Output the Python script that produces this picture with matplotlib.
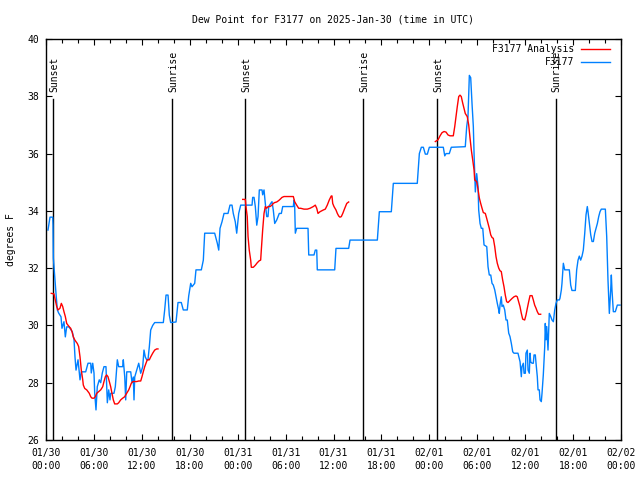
import numpy as np
import matplotlib
matplotlib.use("Agg")
import matplotlib.pyplot as plt

plt.rcParams['font.family'] = 'DejaVu Sans Mono'
plt.rcParams['font.size'] = 7

# hours since 01/30 00:00 UTC
blue_h = [0.25, 0.50, 0.84, 0.88, 0.92, 1.09, 1.25, 1.42, 1.59, 1.88, 2.0, 2.25, 2.42, 2.59, 2.88,
          3.29, 3.51, 3.63, 3.76, 4.01, 4.26, 4.42, 4.97, 5.26, 5.6, 5.67, 5.85, 6.01, 6.1, 6.26,
          6.42, 6.67, 6.85, 7.05, 7.26, 7.51, 7.68, 7.85, 8.01, 8.1, 8.51, 8.68, 8.93, 9.1, 9.6,
          9.68, 9.86, 9.98, 10.11, 10.61, 10.77, 10.93, 11.02, 11.11, 11.36, 11.61, 11.86, 12.11,
          12.27, 12.43, 12.61, 12.77, 12.94, 13.11, 13.36, 13.61, 14.69, 14.86, 15.03, 15.28,
          15.44, 15.61, 16.28, 16.53, 16.94, 17.19, 17.69, 17.87, 18.12, 18.28, 18.62, 18.78,
          19.45, 19.7, 19.87, 21.12, 21.45, 21.63, 21.79, 22.04, 22.29, 22.79, 23.04, 23.29,
          23.45, 23.7, 23.88, 24.13, 24.38, 25.8, 25.88, 26.05, 26.21, 26.39, 26.55, 26.71,
          27.05, 27.13, 27.3, 27.46, 27.64, 27.8, 27.89, 28.14, 28.3, 28.46, 28.64, 28.89, 29.21,
          29.47, 29.64, 30.97, 31.05, 31.14, 31.22, 31.39, 32.81, 32.9, 33.56, 33.72, 33.9, 33.97,
          36.15, 36.31, 37.9, 38.07, 41.49, 41.74, 43.24, 43.49, 46.49, 46.75, 47.0, 47.25, 47.5,
          47.75, 48.0, 49.75, 49.93, 50.09, 50.5, 50.75, 52.5, 52.68, 52.84, 53.01, 53.18, 53.35,
          53.51, 53.6, 53.76, 53.93, 54.1, 54.18, 54.35, 54.51, 54.69, 54.85, 55.19, 55.35, 55.51,
          55.69, 55.85, 56.01, 56.19, 56.35, 56.51, 56.69, 56.76, 56.85, 57.01, 57.1, 57.26, 57.44,
          57.6, 57.76, 57.94, 58.1, 58.27, 58.44, 58.6, 59.1, 59.36, 59.45, 59.52, 59.6, 59.77,
          59.86, 60.02, 60.1, 60.27, 60.36, 60.52, 60.61, 60.69, 60.86, 61.02, 61.11, 61.27, 61.36,
          61.52, 61.61, 61.77, 61.86, 62.02, 62.11, 62.27, 62.45, 62.52, 62.61, 62.7, 62.86, 63.02,
          63.2, 63.36, 63.53, 63.7, 63.86, 64.03, 64.28, 64.36, 64.53, 64.61, 64.78, 64.95, 65.53,
          65.7, 65.86, 66.28, 66.45, 66.62, 66.78, 66.95, 67.12, 67.28, 67.46, 67.62, 67.78, 67.87,
          68.04, 68.21, 68.37, 68.54, 68.71, 68.87, 69.04, 69.21, 69.37, 69.53, 70.04, 70.21, 70.37,
          70.45, 70.54, 70.71, 70.79, 70.87, 71.04, 71.29, 71.54, 71.88]
blue_v = [33.33, 33.78, 33.78, 33.5, 32.35, 31.7, 31.12, 30.54, 30.43, 30.3, 29.9, 30.13, 29.6, 29.95, 29.95,
          29.78, 29.5, 28.9, 28.44, 28.8, 28.1, 28.38, 28.38, 28.68, 28.68, 28.34, 28.68, 28.34, 27.63, 27.05,
          27.86, 28.1, 28.0, 28.34, 28.56, 28.56, 27.3, 27.75, 27.4, 27.63, 27.63, 27.86, 28.8, 28.56, 28.56,
          28.8, 28.2, 27.4, 28.38, 28.38, 28.0, 28.2, 27.4, 28.2, 28.44, 28.68, 28.33, 28.56,
          29.14, 28.9, 28.8, 28.8, 29.26, 29.84, 30.0, 30.1, 30.1, 30.54, 31.06, 31.06,
          30.36, 30.1, 30.12, 30.8, 30.8, 30.54, 30.54, 31.03, 31.47, 31.35, 31.47, 31.94,
          31.94, 32.28, 33.22, 33.22, 32.87, 32.63, 33.39, 33.62, 33.91, 33.91, 34.2, 34.2,
          33.91, 33.62, 33.22, 33.91, 34.2, 34.2, 34.47, 34.47, 34.15, 33.5, 33.8, 34.73,
          34.73, 34.56, 34.73, 34.26, 33.8, 33.8, 34.15, 34.26, 34.32, 34.03, 33.56, 33.68, 33.91,
          33.91, 34.15, 34.15, 34.38, 34.15, 33.22, 33.39, 33.39, 32.46, 32.46, 32.63, 32.63, 31.94,
          31.94, 32.69, 32.69, 32.98, 32.98, 33.97, 33.97, 34.96, 34.96, 36.0, 36.22, 36.22, 35.98,
          35.98, 36.22, 36.22, 35.92, 36.0, 36.0, 36.22, 36.24, 36.94, 37.29, 38.73, 38.65, 37.72,
          36.94, 36.0, 34.66, 35.3, 34.85, 34.03, 33.56, 33.39, 33.39, 32.81, 32.75, 32.05, 31.76,
          31.76, 31.47, 31.41, 31.24, 31.0, 30.77, 30.54, 30.42, 30.71, 31.0, 30.66, 30.71, 30.54,
          30.19, 30.19, 29.73, 29.61, 29.37, 29.08, 29.03, 29.03, 28.73, 28.44, 28.21, 28.56, 28.68,
          28.33, 28.33, 29.03, 29.14, 28.44, 28.33, 29.03, 28.73, 28.68, 28.68, 28.97, 28.97, 28.68,
          28.21, 27.75, 27.75, 27.4, 27.34, 27.63, 28.27, 29.26, 30.07, 29.5, 29.96, 29.14, 30.42,
          30.31, 30.19, 30.13, 30.54, 30.77, 30.89, 30.89, 30.95, 31.24, 31.47, 32.17, 31.94, 31.94,
          31.41, 31.22, 31.22, 31.94, 32.28, 32.42, 32.28, 32.42, 32.63, 33.22, 33.86, 34.15, 33.97,
          33.56, 33.16, 32.93, 32.93, 33.22, 33.39, 33.56, 33.8, 33.97, 34.06, 34.06, 33.1, 31.59,
          31.0, 30.42, 31.24, 31.76, 31.24, 30.48, 30.48, 30.71, 30.71]

# analysis, three segments
red1_h = [0.66, 1.0, 1.16, 1.34, 1.5, 1.75, 1.92, 2.09, 2.25, 2.42, 2.59, 2.75, 2.92, 3.09, 3.26, 3.42,
          3.59, 3.76, 3.92, 4.09, 4.26, 4.42, 4.6, 4.67, 4.85, 5.1, 5.26, 5.42, 5.6, 5.76, 6.01, 6.17,
          6.35, 6.6, 6.85, 7.1, 7.26, 7.43, 7.6, 7.76, 7.93, 8.1, 8.26, 8.43, 8.6, 8.93, 9.1, 9.35,
          9.6, 9.85, 10.1, 10.36, 10.52, 10.68, 10.86, 11.36, 11.61, 11.86, 12.02, 12.18, 12.36,
          12.52, 12.68, 12.94, 13.11, 13.36, 13.61, 13.86, 14.02]
red1_v = [31.12, 31.1, 30.89, 30.66, 30.54, 30.6, 30.77, 30.66, 30.48, 30.31, 30.07, 30.01, 29.95, 29.9, 29.78, 29.6,
          29.5, 29.43, 29.37, 29.26, 28.9, 28.44, 28.1, 27.92, 27.8, 27.75, 27.69, 27.63, 27.51, 27.46, 27.46, 27.51,
          27.63, 27.69, 27.75, 27.86, 28.04, 28.21, 28.27, 28.21, 28.04, 27.86, 27.63, 27.4, 27.26, 27.26, 27.3, 27.4,
          27.46, 27.51, 27.63, 27.75, 27.86, 27.98, 28.04, 28.04, 28.06, 28.06, 28.21, 28.38, 28.56,
          28.68, 28.8, 28.8, 28.9, 29.03, 29.14, 29.18, 29.18]
red2_h = [24.63, 24.96, 25.04, 25.2, 25.3, 25.45, 25.63, 25.71, 25.96, 26.21, 26.46, 26.71, 26.88, 26.96,
          27.13, 27.3, 27.46, 27.63, 27.8, 28.05, 28.3, 28.46, 28.64, 28.89, 29.14, 29.3, 29.55, 29.8,
          30.97, 31.14, 31.39, 31.64, 31.89, 32.3, 32.72, 33.06, 33.47, 33.72, 33.9, 34.06, 34.31,
          34.72, 34.97, 35.22, 35.47, 35.72, 35.81, 35.9, 36.06, 36.31, 36.48, 36.65, 36.81, 36.98,
          37.16, 37.41, 37.66, 37.9]
red2_v = [34.4, 34.4, 34.15, 33.8, 33.1, 32.63, 32.28, 32.03, 32.03, 32.1, 32.19, 32.26, 32.28, 32.63,
          33.33, 33.91, 34.15, 34.09, 34.15, 34.15, 34.2, 34.26, 34.29, 34.31, 34.36, 34.4, 34.47, 34.5,
          34.5, 34.32, 34.2, 34.09, 34.09, 34.06, 34.06, 34.09, 34.15, 34.2, 34.09, 33.91, 33.97,
          34.03, 34.06, 34.2, 34.38, 34.52, 34.52, 34.26, 34.15, 34.03, 33.91, 33.82, 33.78, 33.8,
          33.91, 34.09, 34.26, 34.31]
red3_h = [48.75, 49.09, 49.34, 49.59, 49.84, 50.09, 50.34, 50.59, 51.0, 51.18, 51.34, 51.5, 51.68, 51.84,
          52.0, 52.18, 52.34, 52.5, 52.75, 52.93, 53.1, 53.26, 53.43, 53.6, 53.68, 53.93, 54.1, 54.26,
          54.43, 54.6, 54.76, 55.01, 55.18, 55.35, 55.51, 55.69, 55.85, 56.01, 56.19, 56.35, 56.51,
          56.69, 56.85, 57.01, 57.18, 57.35, 57.51, 57.68, 57.85, 58.1, 58.35, 58.6, 58.85, 59.01,
          59.18, 59.35, 59.52, 59.69, 59.94, 60.1, 60.27, 60.44, 60.61, 60.86, 61.02, 61.19, 61.36,
          61.52, 61.69, 61.94]
red3_v = [36.42, 36.48, 36.62, 36.73, 36.77, 36.75, 36.65, 36.62, 36.62, 36.94, 37.29, 37.64, 37.99, 38.04,
          37.99, 37.76, 37.58, 37.4, 37.29, 37.0, 36.53, 36.12, 35.78, 35.43, 35.08, 35.02, 34.75, 34.45,
          34.26, 34.09, 33.94, 33.91, 33.74, 33.56, 33.39, 33.16, 33.07, 33.04, 32.75, 32.4, 32.17,
          32.0, 31.91, 31.88, 31.59, 31.35, 31.06, 30.83, 30.8, 30.87, 30.94, 31.0, 31.03, 31.0,
          30.83, 30.66, 30.42, 30.22, 30.19, 30.36, 30.6, 30.83, 31.04, 31.04, 30.89, 30.71, 30.6,
          30.48, 30.39, 30.39]

sun_h = [0.93, 15.8, 24.96, 39.75, 48.98, 63.8]
sun_names = ['Sunset', 'Sunrise', 'Sunset', 'Sunrise', 'Sunset', 'Sunrise']

tick_h = list(range(0, 73, 6))
tick_labels = ['01/30\n00:00', '01/30\n06:00', '01/30\n12:00', '01/30\n18:00',
               '01/31\n00:00', '01/31\n06:00', '01/31\n12:00', '01/31\n18:00',
               '02/01\n00:00', '02/01\n06:00', '02/01\n12:00', '02/01\n18:00',
               '02/02\n00:00']

red = '#ff0000'
blue = '#0080ff'

fig = plt.figure(figsize=(6.4, 4.8), dpi=100)
ax = fig.add_axes([46 / 640, 40 / 480, 575 / 640, 401 / 480])

for h, name in zip(sun_h, sun_names):
    ax.plot([h, h], [26, 37.9], color='black', linewidth=1.0)
    ax.text(h + 0.15, 38.15, name, rotation=90, ha='center', va='bottom', fontsize=7)

ax.plot(blue_h, blue_v, color=blue, linewidth=1.0)
for hh, vv in [(red1_h, red1_v), (red2_h, red2_v), (red3_h, red3_v)]:
    ax.plot(hh, vv, color=red, linewidth=1.0)

# legend, gnuplot style
ax.text(0.918, 0.974, 'F3177 Analysis', transform=ax.transAxes, ha='right', va='center', fontsize=7)
ax.plot([0.930, 0.981], [0.974, 0.974], transform=ax.transAxes, color=red, linewidth=1.0)
ax.text(0.918, 0.942, 'F3177', transform=ax.transAxes, ha='right', va='center', fontsize=7)
ax.plot([0.930, 0.981], [0.942, 0.942], transform=ax.transAxes, color=blue, linewidth=1.0)

ax.set_xlim(0, 72)
ax.set_ylim(26, 40)
ax.set_xticks(tick_h)
ax.set_xticklabels(tick_labels, linespacing=1.35)
ax.set_xticks(np.arange(0, 73, 2), minor=True)
ax.set_yticks(np.arange(26, 41, 2))
ax.tick_params(axis='both', which='both', direction='in', top=True, right=True,
               colors='black', labelsize=7)
ax.tick_params(axis='both', which='major', length=4.5, width=0.8)
ax.tick_params(axis='x', which='minor', length=3, width=0.8)
ax.tick_params(axis='x', which='major', pad=6)
ax.tick_params(axis='y', which='major', pad=5)
for s in ax.spines.values():
    s.set_linewidth(1.0)

fig.text(11 / 640, 0.5, 'degrees F', rotation=90, ha='center', va='center', fontsize=7)
fig.text(333 / 640, 1 - 19 / 480, 'Dew Point for F3177 on 2025-Jan-30 (time in UTC)',
         ha='center', va='center', fontsize=7)

fig.savefig('out.png', dpi=100)
